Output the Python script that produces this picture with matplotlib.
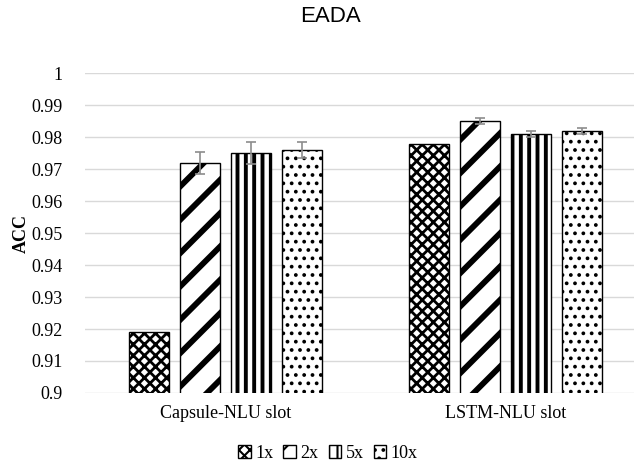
import numpy as np
import matplotlib
matplotlib.use("Agg")
import matplotlib.pyplot as plt

# data
models = ["Capsule-NLU slot", "LSTM-NLU slot"]
series = ["1x", "2x", "5x", "10x"]
acc = {
    "1x": [0.919, 0.978],
    "2x": [0.972, 0.985],
    "5x": [0.975, 0.981],
    "10x": [0.976, 0.982],
}
err = {
    "1x": [0.0, 0.0],
    "2x": [0.0035, 0.001],
    "5x": [0.0035, 0.001],
    "10x": [0.0025, 0.001],
}
yticks = np.round(np.arange(0.90, 1.0001, 0.01), 2)

hatches = {"1x": "xxx", "2x": "/", "5x": "||", "10x": ".."}
hatch_lw = {"1x": 2.0, "2x": 4.2, "5x": 2.8, "10x": 1.5}

serif = "Liberation Serif"

fig = plt.figure(figsize=(6.34, 4.66), dpi=100)
ax = fig.add_axes([85 / 634, 0.1567, 1 - 85 / 634, 0.843 - 0.1567])

x = np.arange(len(models))
width = 0.143
step = 0.182

for i, s in enumerate(series):
    plt.rcParams["hatch.linewidth"] = hatch_lw[s]
    pos = x + (i - 1.5) * step
    bars = ax.bar(pos, acc[s], width, color="white", edgecolor="black",
                  linewidth=1.0, hatch=hatches[s], label=s, zorder=2)
    for b in bars:
        if hasattr(b, "set_hatch_linewidth"):
            b.set_hatch_linewidth(hatch_lw[s])
    e = np.array(err[s])
    keep = e > 0
    ax.errorbar(pos[keep], np.array(acc[s])[keep], yerr=e[keep], fmt="none",
                ecolor="#8c8c8c", elinewidth=1.2, capsize=3.5, capthick=1.2,
                zorder=3)

ax.set_xlim(-0.502, 1.459)
ax.set_ylim(0.9, 1.0)
ax.set_yticks(yticks)
ax.set_yticklabels([f"{v:g}" for v in yticks], fontfamily=serif, fontsize=13)
ax.set_xticks(x)
ax.set_xticklabels(models, fontfamily=serif, fontsize=13)
ax.tick_params(axis="both", length=0)
ax.tick_params(axis="y", pad=16)
ax.tick_params(axis="x", pad=9)
ax.yaxis.grid(True, color="#d9d9d9", linewidth=1.0, zorder=0)
ax.set_axisbelow(True)
for sp in ax.spines.values():
    sp.set_visible(False)

fig.text(21 / 634, 0.5 * (0.1567 + 0.843), "ACC", rotation=90, ha="center",
         va="center", fontfamily=serif, fontweight="bold", fontsize=13)
fig.text(331 / 634, 1 - 17 / 466, "EADA", ha="center", va="center",
         fontfamily="Liberation Sans", fontsize=16)

leg = fig.legend(loc="center", bbox_to_anchor=(328 / 634, 1 - 453 / 466),
                 ncol=4, frameon=False, handlelength=0.7, handleheight=0.7,
                 handletextpad=0.25, columnspacing=0.55,
                 prop={"family": serif, "size": 13})

fig.savefig("out.png", dpi=100)
